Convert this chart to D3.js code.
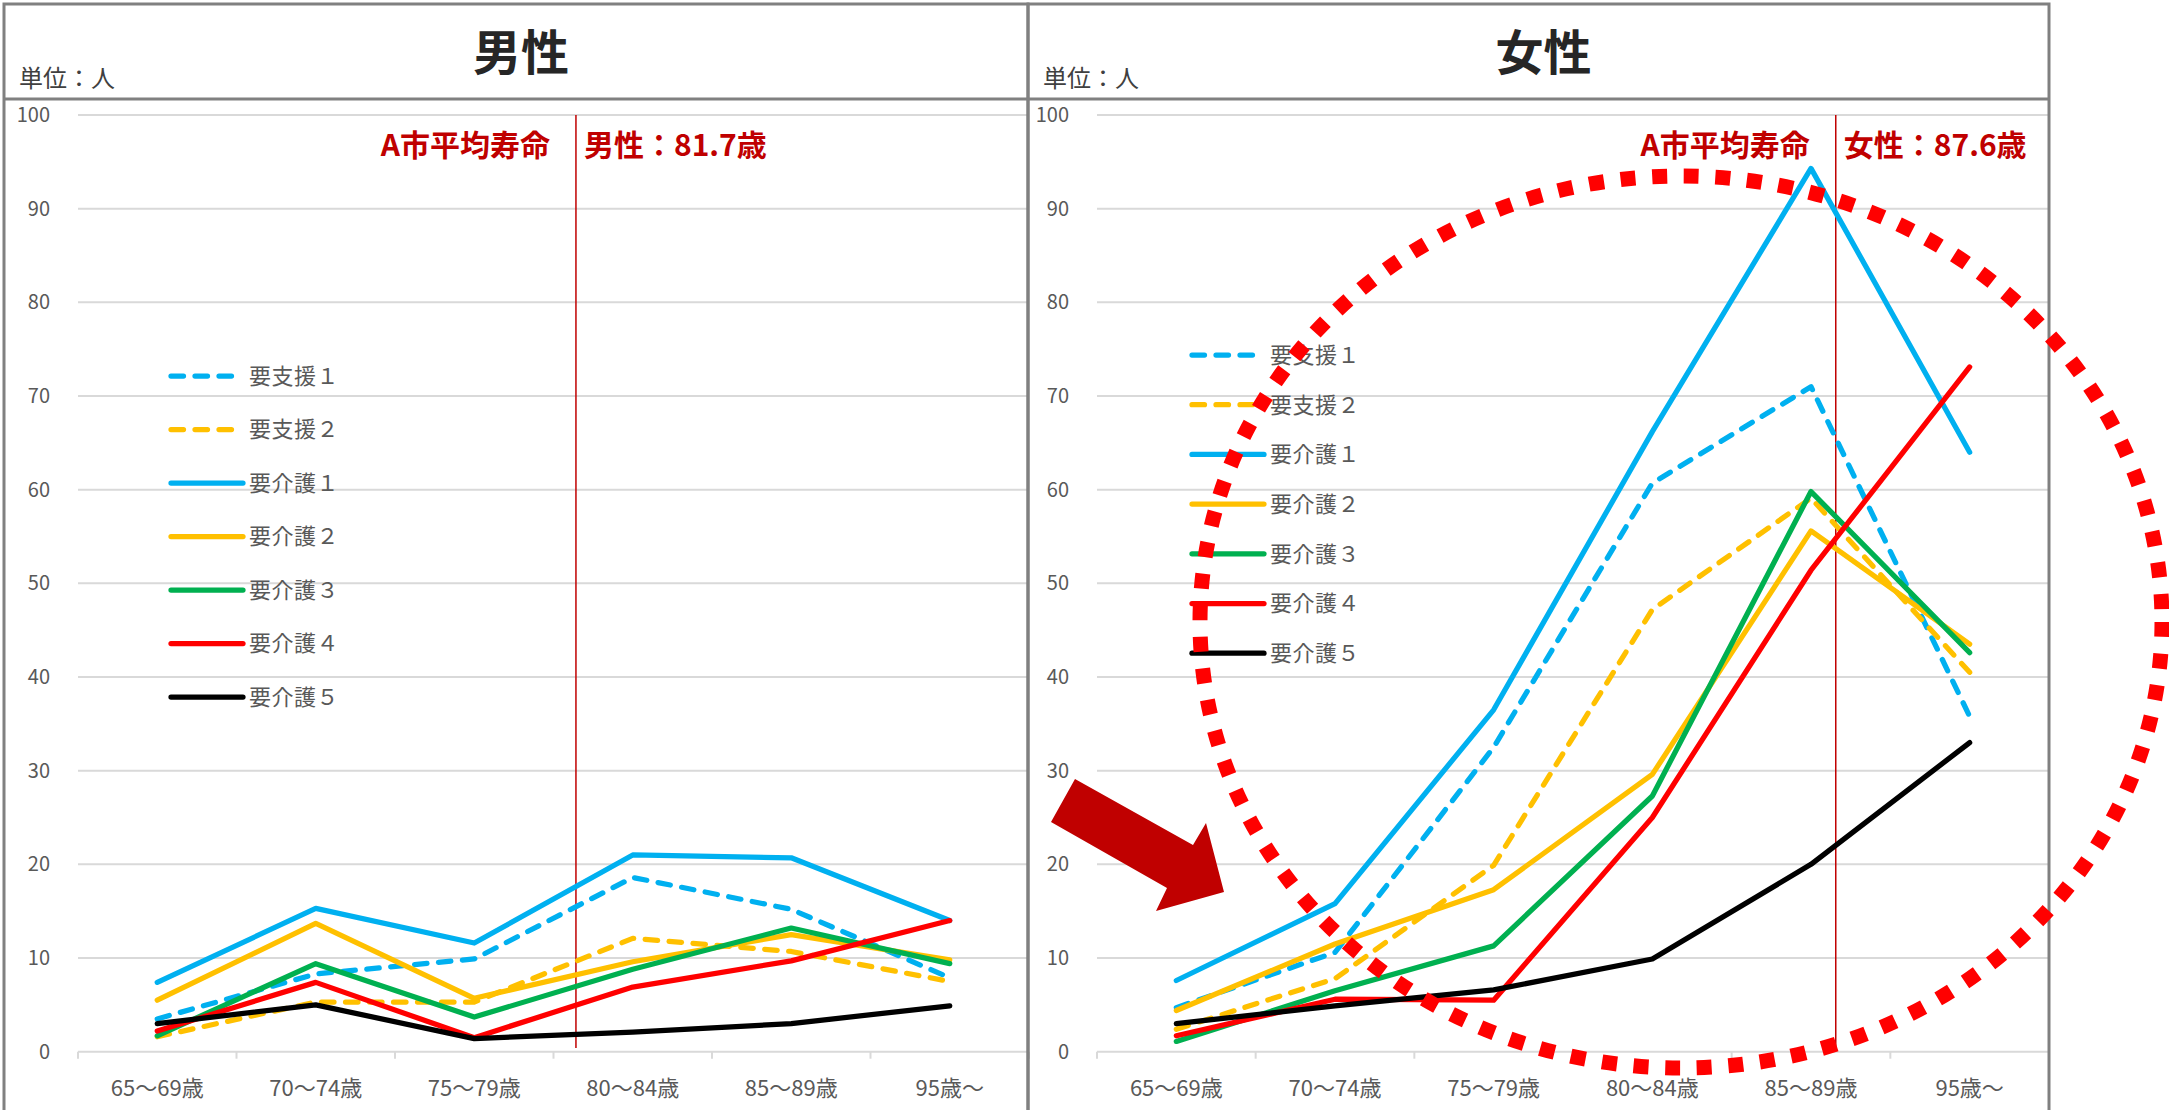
<!DOCTYPE html>
<html lang="ja">
<head>
<meta charset="utf-8">
<title>要支援・要介護認定者数（年齢階級別）</title>
<script src="https://cdn.jsdelivr.net/npm/d3@7/dist/d3.min.js"></script>
<style>
  html, body { margin: 0; padding: 0; background: #ffffff; }
  svg { display: block; font-family: "Noto Sans CJK JP", "Noto Sans", sans-serif; }
</style>
</head>
<body>
<script>
// Age groups on the x axis
const categories = ["65～69歳", "70～74歳", "75～79歳", "80～84歳", "85～89歳", "95歳～"];

// Care-level series, in drawing order
const seriesNames = ["要支援１", "要支援２", "要介護１", "要介護２", "要介護３", "要介護４", "要介護５"];

// Number of people per age group (男性)
const maleSupport1 = [3.5, 8.3, 9.9, 18.6, 15.2, 7.9];
const maleSupport2 = [1.6, 5.3, 5.3, 12.1, 10.7, 7.5];
const maleCare1    = [7.4, 15.3, 11.6, 21.0, 20.7, 14.0];
const maleCare2    = [5.5, 13.7, 5.7, 9.6, 12.5, 9.8];
const maleCare3    = [1.7, 9.4, 3.7, 8.8, 13.2, 9.4];
const maleCare4    = [2.2, 7.4, 1.5, 6.9, 9.7, 14.0];
const maleCare5    = [3.0, 5.0, 1.4, 2.1, 3.0, 4.9];

// Number of people per age group (女性)
const femaleSupport1 = [4.7, 10.6, 32.5, 60.7, 71.0, 35.8];
const femaleSupport2 = [2.4, 7.8, 19.9, 47.2, 59.1, 40.5];
const femaleCare1    = [7.6, 15.8, 36.5, 66.2, 94.3, 64.0];
const femaleCare2    = [4.4, 11.5, 17.3, 29.6, 55.6, 43.5];
const femaleCare3    = [1.1, 6.5, 11.3, 27.3, 59.8, 42.6];
const femaleCare4    = [1.7, 5.6, 5.5, 25.0, 51.4, 73.1];
const femaleCare5    = [3.0, 4.9, 6.6, 9.9, 20.0, 33.0];

// Y axis tick values
const yTicks = [0, 10, 20, 30, 40, 50, 60, 70, 80, 90, 100];

// Average life expectancy in the city
const lifeMale = 81.7;
const lifeFemale = 87.6;

// ---- styles ----
const seriesColors = ["#00b0f0", "#ffc000", "#00b0f0", "#ffc000", "#00b050", "#ff0000", "#000000"];
const seriesDashed = [true, true, false, false, false, false, false];
const LINE_W = 5.25;
const DASH = "12.5 11.5";
const GRID = "#d9d9d9";
const FRAME = "#808080";
const TEXT_GRAY = "#595959";
const DARK_RED = "#c00000";

const W = 2169, H = 1110;
const svg = d3.select("body").append("svg")
  .attr("width", W).attr("height", H)
  .attr("viewBox", `0 0 ${W} ${H}`);

svg.append("rect").attr("width", W).attr("height", H).attr("fill", "#ffffff");

// shared vertical scale
const y = d3.scaleLinear().domain([0, 100]).range([1051.7, 115]);

const panels = [
  {
    title: "男性", lifeText: "男性：81.7歳", life: lifeMale,
    left: 4, right: 1028, plotLeft: 78, plotRight: 1029,
    legendX: 171, legendY: 376, legendStep: 53.5,
    series: [maleSupport1, maleSupport2, maleCare1, maleCare2, maleCare3, maleCare4, maleCare5]
  },
  {
    title: "女性", lifeText: "女性：87.6歳", life: lifeFemale,
    left: 1028, right: 2049, plotLeft: 1097, plotRight: 2049,
    legendX: 1192, legendY: 355, legendStep: 49.7,
    series: [femaleSupport1, femaleSupport2, femaleCare1, femaleCare2, femaleCare3, femaleCare4, femaleCare5]
  }
];

const HEADER_TOP = 4, HEADER_BOTTOM = 99;

function drawPanel(p) {
  const g = svg.append("g");

  const x = d3.scaleBand().domain(categories).range([p.plotLeft, p.plotRight]).padding(0);
  const cx = c => x(c) + x.bandwidth() / 2;

  // age scale used to place the life-expectancy marker
  const ageX = d3.scaleLinear().domain([69.5, 92.8]).range([p.plotLeft, p.plotLeft + 951]);

  // horizontal gridlines
  g.append("g").selectAll("line")
    .data(yTicks.filter(t => t > 0))
    .join("line")
    .attr("x1", p.plotLeft).attr("x2", p.plotRight)
    .attr("y1", d => y(d)).attr("y2", d => y(d))
    .attr("stroke", GRID).attr("stroke-width", 2);

  // category axis with tick marks at band edges
  const xAxis = d3.axisBottom(x).tickSize(0).tickFormat("");
  const axisG = g.append("g").attr("transform", `translate(0,${y(0)})`).call(xAxis);
  axisG.select(".domain").attr("stroke", GRID).attr("stroke-width", 2).attr("d", `M${p.plotLeft},0H${p.plotRight}`);
  axisG.selectAll(".tick").remove();
  const edges = categories.map(c => x(c)).concat([x(categories[categories.length - 1]) + x.bandwidth()]);
  g.append("g").selectAll("line").data(edges).join("line")
    .attr("x1", d => d).attr("x2", d => d)
    .attr("y1", y(0)).attr("y2", y(0) + 7)
    .attr("stroke", GRID).attr("stroke-width", 2);

  // category labels
  g.append("g").selectAll("text").data(categories).join("text")
    .attr("x", d => cx(d)).attr("y", 1096)
    .attr("text-anchor", "middle")
    .attr("font-size", 22).attr("fill", TEXT_GRAY)
    .text(d => d);

  // value labels
  const yAxis = d3.axisLeft(y).tickValues(yTicks).tickSize(0).tickPadding(0);
  const yG = g.append("g").attr("transform", `translate(${p.plotLeft - 28},0)`).call(yAxis);
  yG.select(".domain").remove();
  yG.selectAll("text")
    .attr("font-size", 20).attr("fill", TEXT_GRAY)
    .attr("font-family", "\"Noto Sans CJK JP\", \"Noto Sans\", sans-serif");

  // life-expectancy marker
  const lx = ageX(p.life);
  g.append("line")
    .attr("x1", lx).attr("x2", lx).attr("y1", y(100)).attr("y2", 1048)
    .attr("stroke", DARK_RED).attr("stroke-width", 1.5);
  g.append("text")
    .attr("x", lx - 26).attr("y", 156)
    .attr("text-anchor", "end").attr("font-size", 30).attr("font-weight", 700)
    .attr("fill", DARK_RED).text("A市平均寿命");
  g.append("text")
    .attr("x", lx + 8).attr("y", 156)
    .attr("text-anchor", "start").attr("font-size", 30).attr("font-weight", 700)
    .attr("fill", DARK_RED).text(p.lifeText);

  // series lines
  const line = d3.line().x((d, i) => cx(categories[i])).y(d => y(d));
  g.append("g").selectAll("path").data(p.series).join("path")
    .attr("d", d => line(d))
    .attr("fill", "none")
    .attr("stroke", (d, i) => seriesColors[i])
    .attr("stroke-width", LINE_W)
    .attr("stroke-linejoin", "round")
    .attr("stroke-linecap", "round")
    .attr("stroke-dasharray", (d, i) => seriesDashed[i] ? DASH : null);

  // legend
  const lg = g.append("g").selectAll("g").data(seriesNames).join("g")
    .attr("transform", (d, i) => `translate(${p.legendX},${p.legendY + i * p.legendStep})`);
  lg.append("line")
    .attr("x1", 0).attr("x2", 72).attr("y1", 0).attr("y2", 0)
    .attr("stroke", (d, i) => seriesColors[i])
    .attr("stroke-width", LINE_W)
    .attr("stroke-linecap", "round")
    .attr("stroke-dasharray", (d, i) => seriesDashed[i] ? DASH : null);
  lg.append("text")
    .attr("x", 78).attr("y", 0).attr("dy", "0.36em")
    .attr("font-size", 22).attr("fill", TEXT_GRAY)
    .attr("letter-spacing", 0.5)
    .text(d => d);

  // header: title and unit
  const mid = (p.left + p.right) / 2;
  g.append("text")
    .attr("x", mid + 5).attr("y", 70)
    .attr("text-anchor", "middle").attr("font-size", 48).attr("font-weight", 700)
    .attr("fill", "#262626").text(p.title);
  g.append("text")
    .attr("x", p.left + 15).attr("y", 87)
    .attr("font-size", 24).attr("fill", "#404040").text("単位：人");

  // frame
  g.append("rect")
    .attr("x", p.left).attr("y", HEADER_TOP)
    .attr("width", p.right - p.left).attr("height", H + 20)
    .attr("fill", "none").attr("stroke", FRAME).attr("stroke-width", 3);
  g.append("line")
    .attr("x1", p.left).attr("x2", p.right)
    .attr("y1", HEADER_BOTTOM).attr("y2", HEADER_BOTTOM)
    .attr("stroke", FRAME).attr("stroke-width", 3);
}

panels.forEach(drawPanel);

// emphasis on the female chart: pointing arrow and dotted ring
const arrowPts = [[1075, 779], [1193, 845], [1206, 823], [1224, 892], [1156, 911], [1167, 888], [1051, 822]];
svg.append("polygon")
  .attr("points", arrowPts.map(p => p.join(",")).join(" "))
  .attr("fill", DARK_RED);

svg.append("ellipse")
  .attr("cx", 1681).attr("cy", 622).attr("rx", 481).attr("ry", 446)
  .attr("fill", "none")
  .attr("stroke", "#ff0000").attr("stroke-width", 15)
  .attr("stroke-dasharray", "15 16.7");
</script>
</body>
</html>
